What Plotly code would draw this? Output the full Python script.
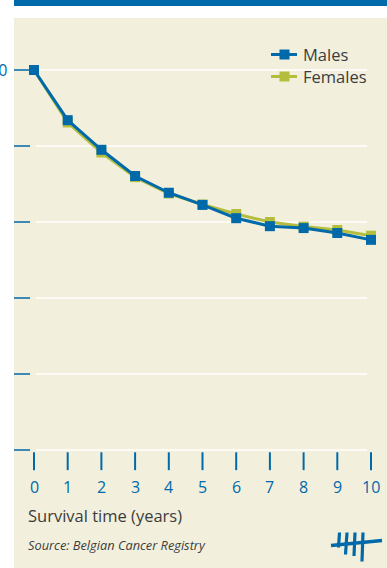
import plotly.graph_objects as go

# Survival curves (relative survival, %)
years = [0, 1, 2, 3, 4, 5, 6, 7, 8, 9, 10]
males = [100, 86.8, 79.0, 72.1, 67.7, 64.5, 61.0, 58.9, 58.4, 57.1, 55.3]
females = [100, 86.2, 78.3, 71.8, 67.5, 64.6, 62.1, 60.0, 58.8, 57.9, 56.4]
y_ticks = [0, 20, 40, 60, 80, 100]
x_ticks = years

BLUE = "#0069aa"
GREEN = "#b5be3c"
BEIGE = "#f2f0dc"
TEXT = "#3c3c3c"
FONT = "Open Sans"

W, H = 387, 568
ML, MT = 14, 18
PW, PH = W - ML, H - MT


def px(x):
    return (x - ML) / PW


def py(y):
    return (H - y) / PH


fig = go.Figure()

fig.add_trace(go.Scatter(
    x=years, y=females, mode="lines+markers", name="Females",
    line=dict(color=GREEN, width=3),
    marker=dict(symbol="square", size=10, color=GREEN),
    showlegend=False,
))
fig.add_trace(go.Scatter(
    x=years, y=males, mode="lines+markers", name="Males",
    line=dict(color=BLUE, width=3),
    marker=dict(symbol="square", size=10, color=BLUE),
    showlegend=False,
))

shapes = []
annotations = []

# top band
shapes.append(dict(type="rect", xref="paper", yref="paper",
                   x0=0, x1=1, y0=py(6), y1=py(0),
                   fillcolor=BLUE, line=dict(width=0), layer="below"))

# horizontal grid and left ticks
for v in y_ticks:
    shapes.append(dict(type="line", xref="paper", yref="y",
                       x0=px(36), x1=px(367), y0=v, y1=v,
                       line=dict(color="white", width=1.5), layer="below"))
    shapes.append(dict(type="line", xref="paper", yref="y",
                       x0=0, x1=px(30), y0=v, y1=v,
                       line=dict(color=BLUE, width=1.5), layer="below"))
    annotations.append(dict(text=str(v), xref="paper", yref="y",
                            x=px(-22), y=v, xanchor="left", yanchor="middle",
                            showarrow=False,
                            font=dict(family=FONT, size=16, color=BLUE)))

# x ticks and labels
for t in x_ticks:
    shapes.append(dict(type="line", xref="x", yref="y",
                       x0=t, x1=t, y0=-0.6, y1=-5.3,
                       line=dict(color=BLUE, width=2), layer="below"))
    annotations.append(dict(text=str(t), xref="x", yref="y",
                            x=t, y=-9.8, xanchor="center", yanchor="middle",
                            showarrow=False,
                            font=dict(family=FONT, size=16, color=BLUE)))

annotations.append(dict(text="Survival time (years)", xref="paper", yref="paper",
                        x=px(26), y=py(515), xanchor="left", yanchor="middle",
                        showarrow=False,
                        font=dict(family=FONT, size=16.5, color=TEXT)))
annotations.append(dict(text="<i>Source: Belgian Cancer Registry</i>",
                        xref="paper", yref="paper",
                        x=px(26), y=py(545), xanchor="left", yanchor="middle",
                        showarrow=False,
                        font=dict(family=FONT, size=12.8, color=TEXT)))

# legend
for label, color, ly in [("Males", BLUE, 54.5), ("Females", GREEN, 76.5)]:
    shapes.append(dict(type="line", xref="paper", yref="paper",
                       x0=px(271), x1=px(297), y0=py(ly), y1=py(ly),
                       line=dict(color=color, width=3)))
    shapes.append(dict(type="rect", xref="paper", yref="paper",
                       x0=px(279.5), x1=px(289.5), y0=py(ly + 5), y1=py(ly - 5),
                       fillcolor=color, line=dict(width=0)))
    annotations.append(dict(text=label, xref="paper", yref="paper",
                            x=px(301), y=py(ly), xanchor="left", yanchor="middle",
                            showarrow=False,
                            font=dict(family=FONT, size=16.5, color=TEXT)))

# tally-mark logo
logo = [
    ((331, 545.5), (382, 540.5), 3.4),
    ((339.5, 532.5), (338.5, 547.5), 3.2),
    ((347, 532.5), (345.5, 554.5), 3.2),
    ((355, 532.5), (354, 556), 3.2),
    ((363, 532.5), (362, 561.5), 3.2),
]
for (x0, y0), (x1, y1), w in logo:
    shapes.append(dict(type="line", xref="paper", yref="paper",
                       x0=px(x0), y0=py(y0), x1=px(x1), y1=py(y1),
                       line=dict(color=BLUE, width=w)))

fig.update_layout(
    width=W, height=H,
    margin=dict(l=ML, r=0, t=MT, b=0, pad=0),
    paper_bgcolor="white",
    plot_bgcolor=BEIGE,
    xaxis=dict(range=[(ML - 34) / 33.7, (W - 34) / 33.7], visible=False,
               fixedrange=True),
    yaxis=dict(range=[(450 - H) / 3.8, (450 - MT) / 3.8], visible=False,
               fixedrange=True),
    shapes=shapes,
    annotations=annotations,
    showlegend=False,
)

fig.write_html("out.html", config={"displayModeBar": False})
